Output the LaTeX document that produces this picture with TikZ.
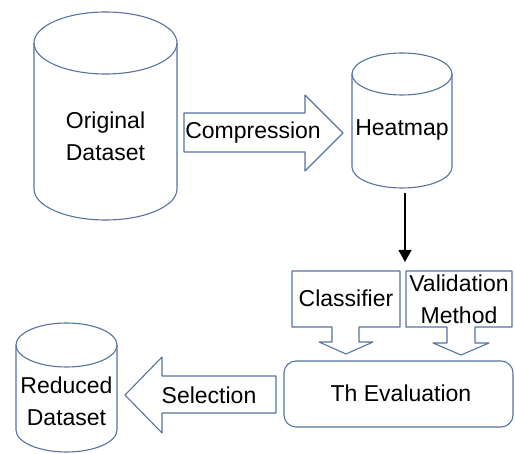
\documentclass[tikz,border=0pt]{standalone}
\usepackage{fontspec}
\setmainfont{Liberation Sans}
\usetikzlibrary{arrows.meta}
\definecolor{dbblue}{RGB}{85,115,160}

% cylinder: centre x, top ellipse y, bottom ellipse y, x radius, y radius
\newcommand{\dbcylinder}[5]{%
  \draw[dbline] (#1,#2) ellipse[x radius=#4,y radius=#5] ;
  \draw[dbline] (#1-#4,#2)--(#1-#4,#3) arc[start angle=180,end angle=0,x radius=#4,y radius=#5]--(#1+#4,#2) ;
}

\begin{document}
\begin{tikzpicture}[x=1pt,y=-1pt,
    dbline/.style={dbblue,line width=1.1pt,line join=round},
    lbl/.style={align=center,inner sep=0pt,font=\fontsize{23}{32}\selectfont}]
  \useasboundingbox (0,0) rectangle (515,454) ;
  % data stores
  \dbcylinder{105.5}{43}{189}{71.5}{31}
  \dbcylinder{402}{74}{167}{50}{21}
  \dbcylinder{66.5}{345}{430}{50.5}{22}
  \node[lbl] (orig) at (105.5,136) {Original\\Dataset} ;
  \node[lbl] (heat) at (402,130) {Heatmap} ;
  \node[lbl] (red) at (66.5,401) {Reduced\\Dataset} ;
  % block arrows
  \draw[dbline] (184,113)--(305,113)--(305,95)--(343,133)--(305,171)--(305,152)--(184,152)--cycle ;
  \node[lbl] (comp) at (253,133) {Compression} ;
  \draw[dbline] (276,376)--(162,376)--(162,357)--(125,395)--(162,433)--(162,413)--(276,413)--cycle ;
  \node[lbl] (sel) at (209,395) {Selection} ;
  % inputs of the evaluation
  \draw[dbline] (292,271)--(400,271)--(400,327)--(359,327)--(359,342)--(373,342)--(346,354) %
    --(319,342)--(332,342)--(332,327)--(292,327)--cycle ;
  \node[lbl] (clf) at (346,298) {Classifier} ;
  \draw[dbline] (406,271)--(512,271)--(512,327)--(475,327)--(475,343)--(489,343)--(461,355) %
    --(433,343)--(447,343)--(447,327)--(406,327)--cycle ;
  \node[lbl] (val) at (459,299) {Validation\\Method} ;
  \draw[dbline,rounded corners=12pt] (284,361) rectangle (513,427) ;
  \node[lbl] (eval) at (401,393) {Th Evaluation} ;
  % heatmap to the inputs
  \coordinate (hbot) at (405,193) ;
  \coordinate (split) at (405,262) ;
  \draw[line width=1.1pt,-{Triangle[width=13pt,length=12pt]}] (hbot)--(split) ;
\end{tikzpicture}
\end{document}
